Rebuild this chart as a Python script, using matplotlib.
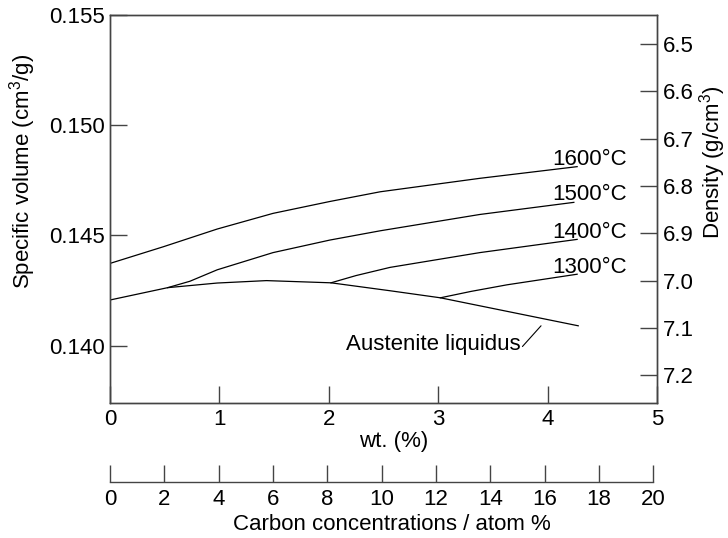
import matplotlib
matplotlib.use('Agg')
import matplotlib.pyplot as plt
import numpy as np

plt.rcParams['font.family'] = ['Liberation Sans', 'DejaVu Sans']
plt.rcParams['mathtext.fontset'] = 'custom'
plt.rcParams['mathtext.rm'] = 'Liberation Sans'

# 数据：碳含量 (wt.%) 与比容 (cm3/g)
wt_1600 = [0.0, 0.49, 0.98, 1.49, 2.01, 2.47, 3.38, 4.27]
v_1600 = [0.14373, 0.14449, 0.14529, 0.14600, 0.14654, 0.14698, 0.14759, 0.14812]

wt_1500 = [0.527, 0.73, 0.98, 1.49, 2.01, 2.47, 3.38, 4.24]
v_1500 = [0.14263, 0.14292, 0.14344, 0.14422, 0.14479, 0.14521, 0.14595, 0.14650]

wt_1400 = [2.02, 2.25, 2.56, 3.38, 4.27]
v_1400 = [0.14285, 0.14318, 0.14355, 0.14422, 0.14482]

wt_1300 = [3.02, 3.30, 3.63, 4.27]
v_1300 = [0.14217, 0.14246, 0.14276, 0.14324]

wt_liq = [0.0, 0.527, 0.98, 1.43, 2.02, 2.56, 3.02, 4.28]
v_liq = [0.14207, 0.14263, 0.14284, 0.14295, 0.14285, 0.14249, 0.14217, 0.14090]

temp_labels = ['1600°C', '1500°C', '1400°C', '1300°C']
label_pos = [(4.04, 0.14819), (4.04, 0.14661), (4.04, 0.14488), (4.04, 0.14331)]

wt_ticks = [0, 1, 2, 3, 4, 5]
vol_ticks = [0.140, 0.145, 0.150, 0.155]
dens_ticks = [6.5, 6.6, 6.7, 6.8, 6.9, 7.0, 7.1, 7.2]
atom_ticks = list(range(0, 21, 2))

W, H = 728, 538
fig = plt.figure(figsize=(W / 100, H / 100), dpi=100)

spine_c = '#444444'
fs = 16

ax = fig.add_axes([110 / W, 1 - 402.5 / H, 547 / W, 387.5 / H])
for wt, v in [(wt_1600, v_1600), (wt_1500, v_1500), (wt_1400, v_1400),
              (wt_1300, v_1300), (wt_liq, v_liq)]:
    ax.plot(wt, v, color='black', lw=0.9)

ax.set_xlim(0, 5)
ax.set_ylim(0.13742, 0.155)
ax.set_xticks(wt_ticks)
ax.set_yticks(vol_ticks)
ax.set_yticklabels([f'{t:.3f}' for t in vol_ticks])
ax.tick_params(axis='both', direction='in', length=12, width=1.0,
               color=spine_c, labelsize=fs)
ax.tick_params(axis='x', pad=5)
ax.tick_params(axis='y', pad=4)
for s in ax.spines.values():
    s.set_color(spine_c)
    s.set_linewidth(1.0)

for txt, (x, y) in zip(temp_labels, label_pos):
    ax.text(x, y, txt, fontsize=fs, ha='left', va='baseline')

# 奥氏体液相线标注与引线
ax.text(3.75, 0.13980, 'Austenite liquidus', fontsize=fs, ha='right', va='baseline')
ax.annotate('', xy=(3.94, 0.14090), xytext=(3.77, 0.13996),
            arrowprops=dict(arrowstyle='-', color='black', lw=0.8,
                            shrinkA=0, shrinkB=0))

ax.set_ylabel(r'Specific volume (cm$\mathregular{^3}$/g)', fontsize=fs)
ax.yaxis.set_label_coords(38 / W, 1 - 171 / H, transform=fig.transFigure)

# 右侧密度轴（线性刻度）
ax2 = ax.twinx()
ax2.set_ylim(7.257, 6.439)
ax2.set_yticks(dens_ticks)
ax2.set_yticklabels([f'{t:.1f}' for t in dens_ticks])
ax2.tick_params(axis='y', direction='in', length=12, width=1.0,
                color=spine_c, labelsize=fs, pad=4)
for s in ax2.spines.values():
    s.set_color(spine_c)
    s.set_linewidth(1.0)
ax2.set_ylabel(r'Density (g/cm$\mathregular{^3}$)', fontsize=fs)
ax2.yaxis.set_label_coords(697 / W, 1 - 162 / H, transform=fig.transFigure)

fig.text(393.5 / W, 1 - 442 / H, 'wt. (%)', fontsize=fs, ha='center', va='center')

# 下方原子百分比轴
ax3 = fig.add_axes([110 / W, 1 - 482.3 / H, 543.3 / W, 0.001])
ax3.set_xlim(0, 20)
ax3.set_xticks(atom_ticks)
ax3.set_yticks([])
for k in ['top', 'left', 'right']:
    ax3.spines[k].set_visible(False)
ax3.spines['bottom'].set_color(spine_c)
ax3.spines['bottom'].set_linewidth(1.0)
ax3.patch.set_visible(False)
ax3.tick_params(axis='x', direction='in', length=12, width=1.0,
                color=spine_c, labelsize=fs, pad=5)
fig.text(392 / W, 1 - 524 / H, 'Carbon concentrations / atom %', fontsize=fs,
         ha='center', va='center')

plt.savefig('out.png', dpi=100)
